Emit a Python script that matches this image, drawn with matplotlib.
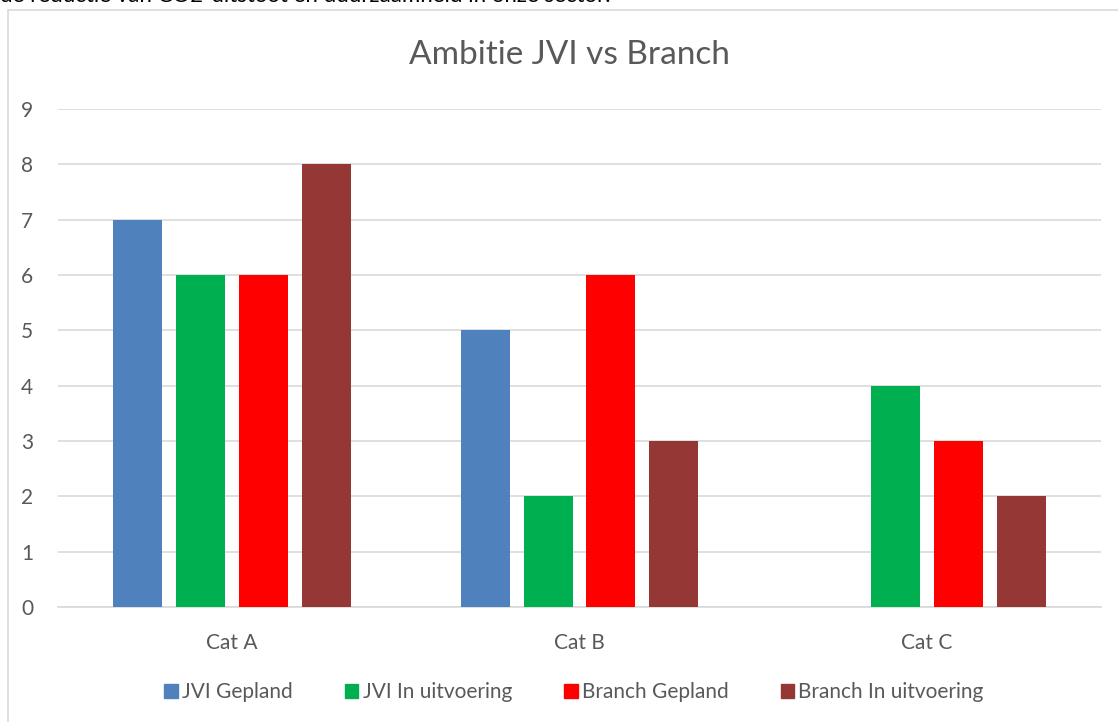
import numpy as np
from matplotlib import pyplot as plt
from matplotlib.patches import Rectangle, Patch

categories = ["Cat A", "Cat B", "Cat C"]
series_names = ["JVI Gepland", "JVI In uitvoering", "Branch Gepland", "Branch In uitvoering"]
jvi_gepland = [7, 5, 0]
jvi_uitvoering = [6, 2, 4]
branch_gepland = [6, 6, 3]
branch_uitvoering = [8, 3, 2]
colors = ["#4F81BD", "#00B050", "#FF0000", "#953735"]
yticks = list(range(10))

plt.rcParams['font.family'] = ['Lato', 'DejaVu Sans']
text_color = "#595959"

W, H = 1118, 722
fig = plt.figure(figsize=(W / 100, H / 100), dpi=100)

# cut-off body text from the document above the chart
fig.text(0 / W, 1 - (-4) / H, "de reductie van CO2-uitstoot en duurzaamheid in onze sector.",
         fontsize=16, color="#000000", ha="left", va="center")

# chart frame (runs off the right and bottom edges)
fig.patches.append(Rectangle((8 / W, -0.1), 1.2, 1 - 10 / H + 0.1,
                             transform=fig.transFigure, fill=False,
                             edgecolor="#D9D9D9", linewidth=1.2))

ax = fig.add_axes([58 / W, 1 - 607 / H, (1101 - 58) / W, (607 - 109) / H])

all_series = [jvi_gepland, jvi_uitvoering, branch_gepland, branch_uitvoering]
x = np.arange(len(categories))
step = 63 / 348
width = 49 / 348
for i, (vals, name, c) in enumerate(zip(all_series, series_names, colors)):
    ax.bar(x + (i - 1.5) * step, vals, width=width, color=c, label=name, zorder=3)

ax.set_xlim(-0.5, 2.5)
ax.set_ylim(0, 9)
ax.set_yticks(yticks)
ax.set_xticks(x)
ax.set_xticklabels(categories)
ax.grid(axis="y", color="#D9D9D9", linewidth=1.2, zorder=0)
for s in ["top", "right", "left"]:
    ax.spines[s].set_visible(False)
ax.spines["bottom"].set_color("#D9D9D9")
ax.spines["bottom"].set_linewidth(1.2)
ax.tick_params(axis="both", length=0, colors=text_color, labelsize=15)
ax.tick_params(axis="y", pad=18)
ax.tick_params(axis="x", pad=19)

fig.text(569 / W, 1 - 55 / H, "Ambitie JVI vs Branch", fontsize=24, color=text_color,
         ha="center", va="center")

handles = [Patch(color=c) for c in colors]
fig.legend(handles, series_names, loc="center", bbox_to_anchor=(574 / W, 1 - 692 / H),
           ncol=4, frameon=False, fontsize=15, labelcolor=text_color,
           handlelength=0.65, handleheight=0.65, handletextpad=0.2, columnspacing=2.5)

fig.savefig("out.png", dpi=100)
